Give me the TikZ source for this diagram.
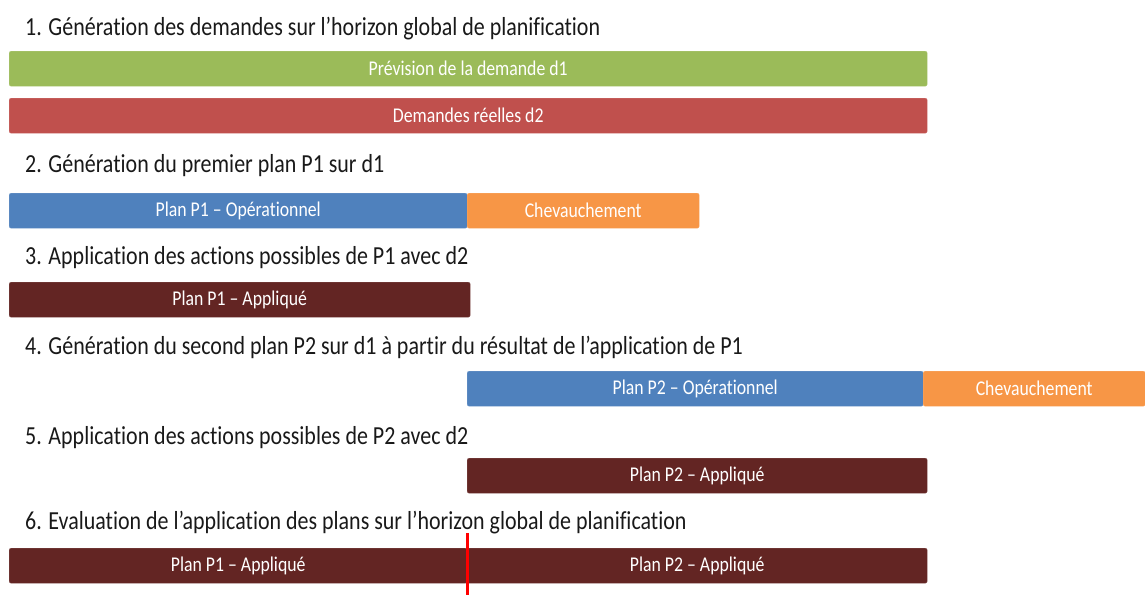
\documentclass[tikz,border=0pt]{standalone}
\usepackage{fontspec}
\setmainfont{Carlito}[FakeStretch=0.845, Ligatures=NoCommon]
\usetikzlibrary{positioning, calc}

\definecolor{prevgreen}{HTML}{9BBB59}
\definecolor{realred}{HTML}{C0504D}
\definecolor{planblue}{HTML}{4F81BD}
\definecolor{overlaporange}{HTML}{F79646}
\definecolor{appliedbrown}{HTML}{632523}

\begin{document}
\begin{tikzpicture}[
  x=1pt, y=-1pt,
  stage/.style     = {font=\fontsize{26}{30}\selectfont, text=black!90,
                      inner sep=0pt, anchor=base west},
  bar/.style       = {rounded corners=2pt, inner sep=0pt, anchor=north west,
                      minimum height=35pt, text=white,
                      font=\fontsize{21}{24}\selectfont},
  forecast/.style  = {bar, fill=prevgreen, draw=prevgreen!80!white},
  actual/.style    = {bar, fill=realred, draw=realred!80!white},
  operational/.style = {bar, fill=planblue, draw=planblue!80!white},
  overlap/.style   = {bar, fill=overlaporange, draw=overlaporange!80!white},
  applied/.style   = {bar, fill=appliedbrown, draw=appliedbrown!80!white},
  cutline/.style   = {draw=red, line width=3pt},
]
\useasboundingbox (0,0) rectangle (1145,595);

% =============================================================
% 1. Demands over the whole horizon
% =============================================================
\node[stage] (S1) at (25,35)
  {1. Génération des demandes sur l’horizon global de planification};
\node[forecast, minimum width=918pt] (D1) at (9,51) {Prévision de la demande d1};
\node[actual,   minimum width=918pt] (D2) at (9,98) {Demandes réelles d2};

% =============================================================
% 2. First plan
% =============================================================
\node[stage] (S2) at (25,172) {2. Génération du premier plan P1 sur d1};
\node[operational, minimum width=458pt] (P1op) at (9,193) {Plan P1 – Opérationnel};
\node[overlap,     minimum width=232pt] (P1ov) at (467,193) {Chevauchement};

% =============================================================
% 3. Applying P1
% =============================================================
\node[stage] (S3) at (25,264) {3. Application des actions possibles de P1 avec d2};
\node[applied, minimum width=461pt] (P1ap) at (9,282) {Plan P1 – Appliqué};

% =============================================================
% 4. Second plan
% =============================================================
\node[stage] (S4) at (25,354)
  {4. Génération du second plan P2 sur d1 à partir du résultat de l’application de P1};
\node[operational, minimum width=456pt] (P2op) at (467,371) {Plan P2 – Opérationnel};
\node[overlap,     minimum width=222pt] (P2ov) at (923,371) {Chevauchement};

% =============================================================
% 5. Applying P2
% =============================================================
\node[stage] (S5) at (25,444) {5. Application des actions possibles de P2 avec d2};
\node[applied, minimum width=460pt] (P2ap) at (467,458) {Plan P2 – Appliqué};

% =============================================================
% 6. Evaluation over the horizon
% =============================================================
\node[stage] (S6) at (25,529)
  {6. Evaluation de l’application des plans sur l’horizon global de planification};
\node[applied, minimum width=458pt] (E1) at (9,548)   {Plan P1 – Appliqué};
\node[applied, minimum width=460pt] (E2) at (467,548) {Plan P2 – Appliqué};

% red cut between the two plans
\coordinate (cutA) at (467,533);
\coordinate (cutB) at (467,595);
\draw[cutline] (cutA) -- (cutB);

\end{tikzpicture}
\end{document}
